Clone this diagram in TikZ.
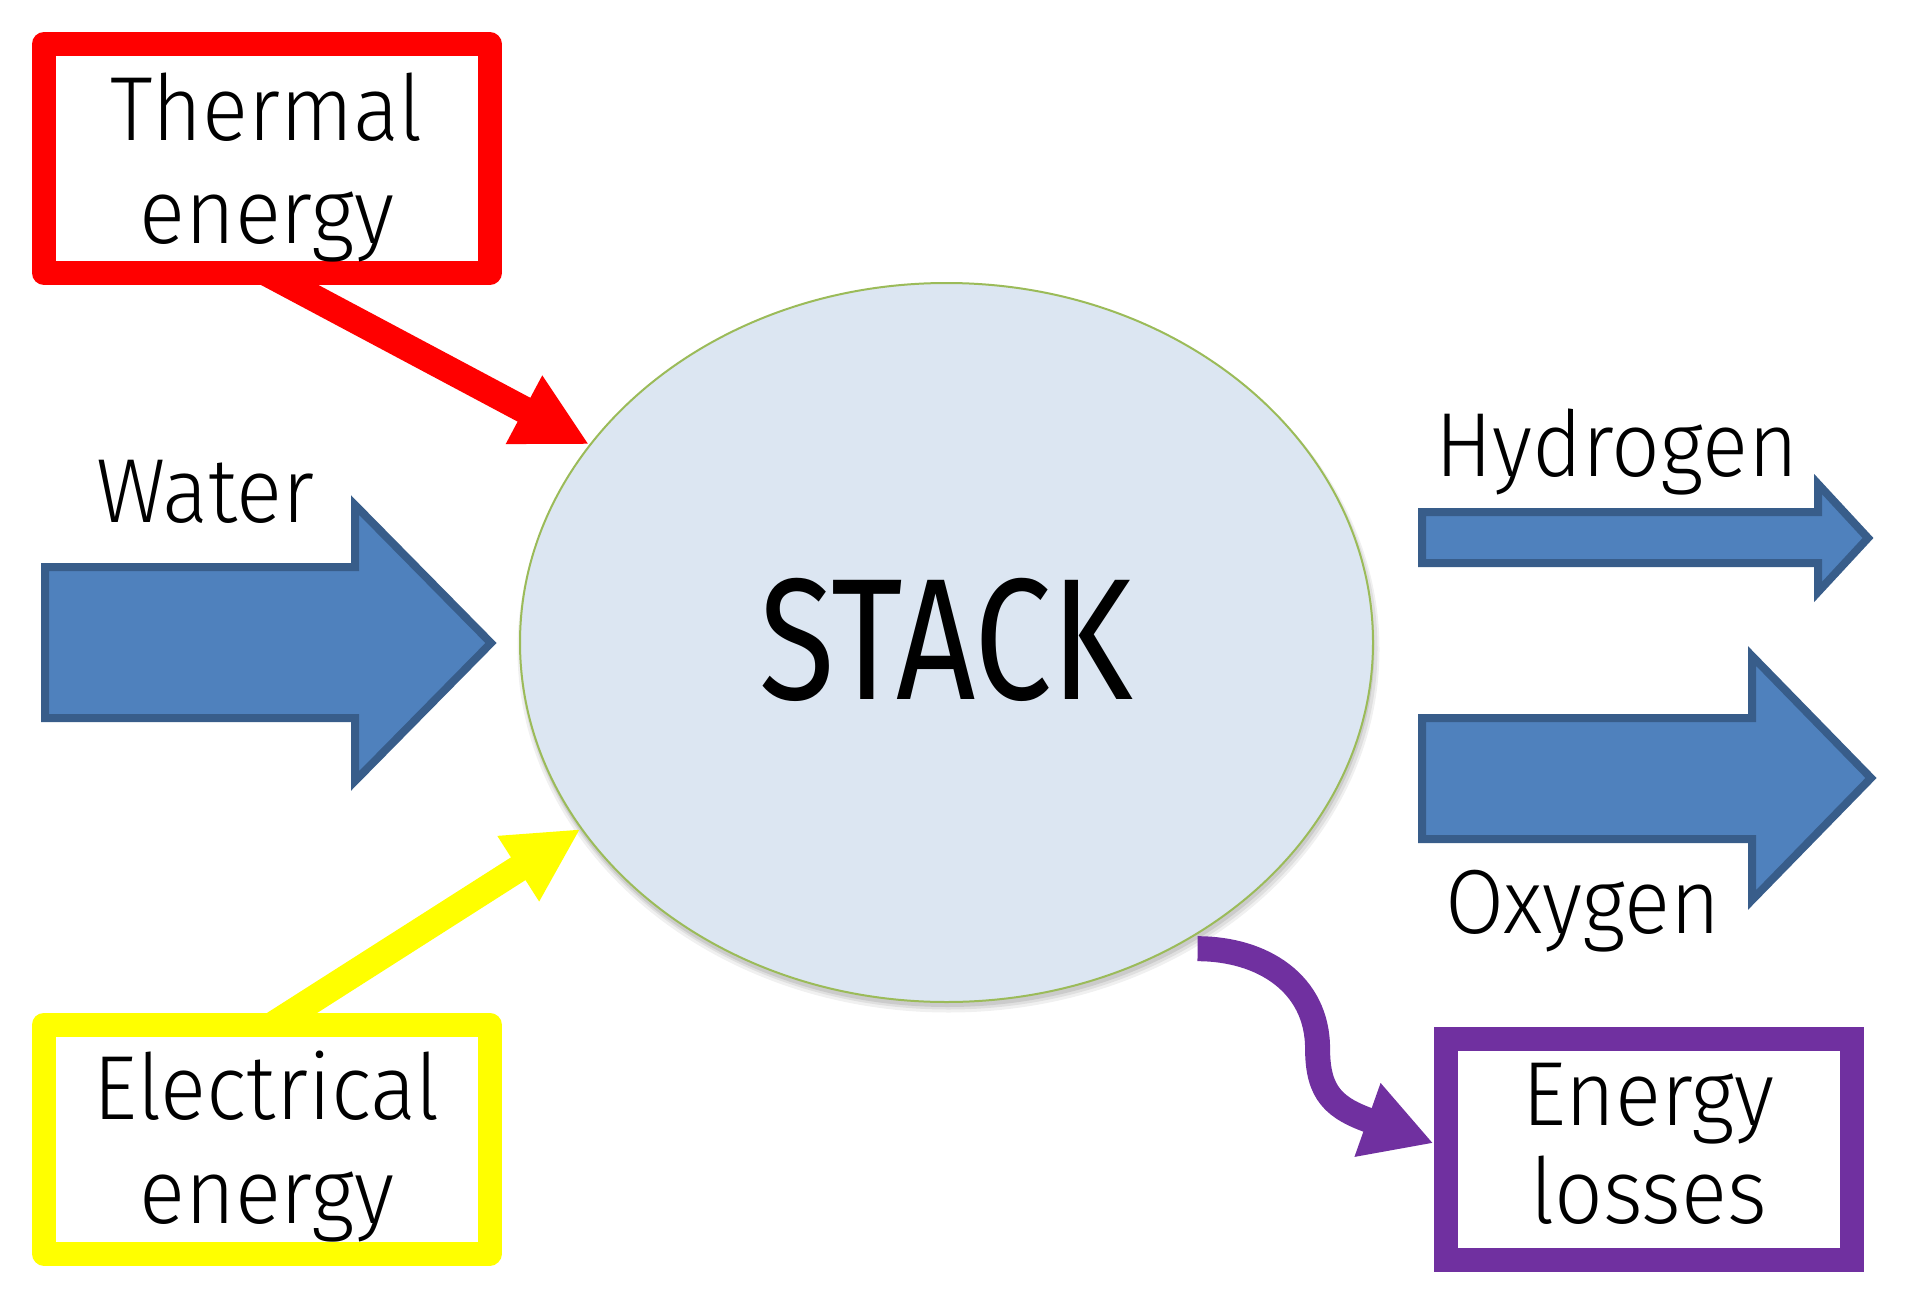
\documentclass[tikz,border=0pt]{standalone}
\usepackage{fontspec}
\setmainfont{Fira Sans}[UprightFont={* Light},FakeStretch=0.94]
\newfontfamily\stackfont{Fira Sans}[FakeStretch=0.80]
\usetikzlibrary{arrows.meta,shapes.geometric}
\pgfdeclarelayer{bg}
\pgfsetlayers{bg,main}
\definecolor{blfill}{HTML}{4F81BD}
\definecolor{bldraw}{HTML}{385D8A}
\definecolor{ellfill}{HTML}{DCE6F2}
\definecolor{elldraw}{HTML}{9BBB59}
\definecolor{purp}{HTML}{7030A0}
\definecolor{yell}{HTML}{FFFF00}
\definecolor{redc}{HTML}{FF0000}
\newcommand\mytop[1]{\rule{0pt}{#1pt}}
\newcommand\mybot[1]{\rule[-#1pt]{0pt}{#1pt}}
\begin{document}
\begin{tikzpicture}[x=1pt,y=-1pt,
  lbl/.style={font=\fontsize{91}{103}\selectfont, inner sep=0pt, anchor=base west},
  boxnode/.style={draw=#1, line width=24pt, fill=white, inner sep=0pt,
    align=center, font=\fontsize{91}{103}\selectfont},
  blockarrow/.style={fill=blfill, draw=bldraw, line width=8pt},
  flowarrow/.style={line width=27pt, -{Triangle[length=74pt,width=72pt]}}]
\useasboundingbox (0,0) rectangle (1906,1306);

% central ellipse
\node[ellipse, draw=elldraw, fill=ellfill, line width=2pt, minimum width=853pt,
  minimum height=719pt, inner sep=0pt, text height=119pt, text depth=6pt,
  font=\stackfont\fontsize{173}{173}\selectfont] (stack) at (946.5,642.5) {STACK};

% boxes
\node[boxnode=redc, line join=round, minimum width=445.5pt, minimum height=227pt]
  (thermal) at (266.75,158.5) {\mytop{96}Thermal\\energy\mybot{30}};
\node[boxnode=yell, line join=round, minimum width=445.5pt, minimum height=229pt,
  font=\fontsize{91}{104}\selectfont]
  (electrical) at (266.75,1139) {\mytop{94}Electrical\\energy\mybot{30}};
\node[boxnode=purp, line join=miter, minimum width=406pt, minimum height=220.5pt,
  font=\fontsize{91}{98}\selectfont]
  (losses) at (1648.5,1149.25) {\mytop{80}Energy\\losses\mybot{30}};

% labels
\node[lbl] (water) at (96,522) {Water};
\node[lbl] (hydrogen) at (1435,476) {Hydrogen};
\node[lbl] (oxygen) at (1445,933) {Oxygen};

% block arrows
\draw[blockarrow] (45,567) -- (355,567) -- (355,505) -- (491,643) -- (355,781)
  -- (355,718) -- (45,718) -- cycle;
\draw[blockarrow] (1422,512) -- (1818,512) -- (1818,484) -- (1868,538) -- (1818,592)
  -- (1818,563) -- (1422,563) -- cycle;
\draw[blockarrow] (1422,718) -- (1752,718) -- (1752,656) -- (1871,778) -- (1752,900)
  -- (1752,839) -- (1422,839) -- cycle;

\begin{pgfonlayer}{bg}
% soft shadow of the ellipse
\fill[black, opacity=0.06] ([shift={(2,7)}]stack.center) ellipse [x radius=431, y radius=363];
\fill[black, opacity=0.07] ([shift={(2,6)}]stack.center) ellipse [x radius=429, y radius=361];
\fill[black, opacity=0.09] ([shift={(1,5)}]stack.center) ellipse [x radius=427, y radius=359.5];
% flow arrows
\draw[flowarrow, redc, shorten <=-30pt] ([xshift=23pt]thermal.south) -- (stack.151);
\draw[flowarrow, yell, shorten <=-30pt] ([xshift=26pt]electrical.north) -- (stack.207);
\draw[purp, line width=25pt, -{Triangle[length=70pt,width=73pt]}]
  ([shift={(10,8.5)}]stack.-51) .. controls +(65,0) and +(0,-65) .. ++(120,100)
  .. controls +(0,45) and +(-99,-35) .. ([yshift=6pt]losses.west);
\end{pgfonlayer}
\end{tikzpicture}
\end{document}
